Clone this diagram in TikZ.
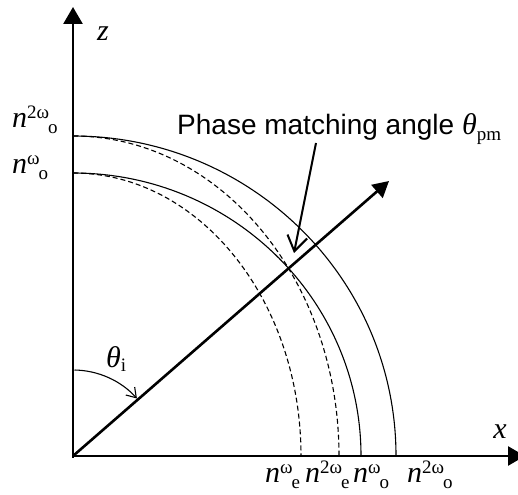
\documentclass[tikz,border=0pt]{standalone}
\usepackage{fontspec}
\setmainfont{Liberation Serif}
\newfontfamily\arialfont{Liberation Sans}
\usepackage{tikz}
\usetikzlibrary{arrows.meta}

\newcommand{\smallidx}{\fontsize{19}{19}\selectfont}
\newcommand{\refidx}[2]{\textit{n}\raisebox{9pt}{\smallidx #1}\kern-1pt\raisebox{-6pt}{\smallidx #2}}

\begin{document}
\begin{tikzpicture}[
    x=1pt,y=1pt,
    axis/.style={line width=2.6pt,-{Triangle[length=17pt,width=19pt]}},
    beam/.style={line width=2.6pt,-{Triangle[length=16pt,width=17pt]}},
    ordinary/.style={draw=black,line width=1.1pt},
    extraordinary/.style={draw=black,line width=1.1pt,dash pattern=on 5pt off 3pt},
    pointer/.style={line width=2pt,-{Straight Barb[length=15pt,width=20pt]}},
    anglemark/.style={line width=1.1pt,-{Straight Barb[length=9pt,width=12pt]}},
    index/.style={inner sep=0pt,anchor=base west,font=\fontsize{30}{30}\selectfont},
    axislabel/.style={inner sep=0pt,font=\fontsize{30}{30}\selectfont\itshape},
    caption/.style={inner sep=0pt,anchor=base west,font=\fontsize{28}{28}\selectfont\arialfont}
  ]
    \useasboundingbox (-73,-38) rectangle (445,456);

    \coordinate (O) at (0,0);
    \coordinate (zfoot) at (0,-2);
    \coordinate (ztip) at (0,449);
    \coordinate (xtip) at (452,0);
    \coordinate (dirtip) at (316,275);

    \draw[ordinary] (0,320) arc[start angle=90,end angle=0,x radius=323,y radius=320];
    \draw[ordinary] (0,283) arc[start angle=90,end angle=0,x radius=288,y radius=283];
    \draw[extraordinary] (0,320) arc[start angle=90,end angle=0,x radius=266,y radius=320];
    \draw[extraordinary] (0,283) arc[start angle=90,end angle=0,x radius=228,y radius=283];

    \draw[axis] (zfoot) -- (ztip);
    \draw[axis] (O) -- (xtip);
    \draw[beam] (O) -- (dirtip);

    \draw[anglemark] (89:86) arc[start angle=89,end angle=42,radius=86];

    \node[axislabel] (zlab) at (30,422) {z};
    \node[axislabel] (xlab) at (427,24) {x};
    \node[index] (thetai) at (33,88) {\textit{θ}\raisebox{-4pt}{\smallidx i}};

    \node[index] (no2w) at (-61,328) {\refidx{2ω}{o}};
    \node[index] (now) at (-61,282) {\refidx{ω}{o}};

    \node[index] (new) at (192,-26) {\refidx{ω}{e}};
    \node[index] (ne2w) at (232,-26) {\refidx{2ω}{e}};
    \node[index] (nowx) at (280,-26) {\refidx{ω}{o}};
    \node[index] (no2wx) at (334,-26) {\refidx{2ω}{o}};

    \node[caption] (pmlabel) at (104,321) {Phase matching angle
      {\rmfamily\fontsize{30}{30}\selectfont\textit{θ}\raisebox{-6pt}{\smallidx pm}}};
    \coordinate (pmtail) at (243,313);
    \coordinate (pmtip) at (221,203);
    \draw[pointer] (pmtail) -- (pmtip);
  \end{tikzpicture}
\end{document}
